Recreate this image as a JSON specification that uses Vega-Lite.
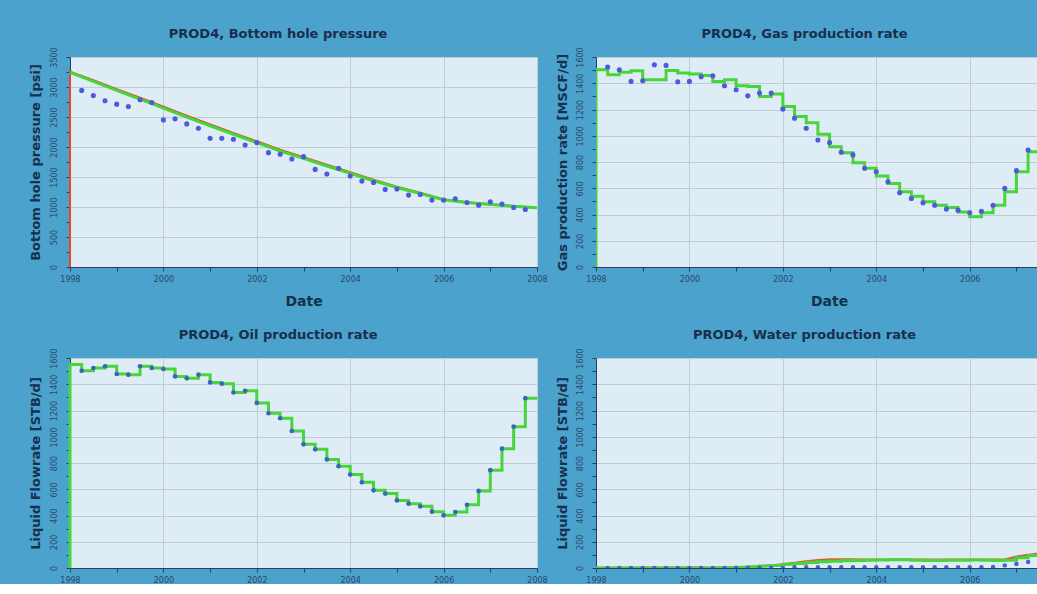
{
 "$schema": "https://vega.github.io/schema/vega-lite/v6.json",
 "background": "#4aa2cd",
 "padding": {"left": 29, "top": 27, "right": 0, "bottom": 0},
 "config": {
  "view": {"fill": "#deedf5", "stroke": null},
  "font": "DejaVu Sans",
  "axis": {"domainColor": "#24405e", "domainWidth": 1, "tickColor": "#24405e", "tickSize": 4, "labelColor": "#2a4868", "labelFontSize": 8, "titleColor": "#17304f", "titleFontWeight": "bold", "titleFontSize": 13, "gridColor": "#c0ccd4", "gridWidth": 1, "labelOverlap": false, "labelFlush": false},
  "title": {"fontSize": 13, "color": "#1a2d4c", "fontWeight": "bold", "offset": 6, "frame": "bounds"}
 },
 "datasets": {
  "bhp_obs": [{"t":1998.25,"v":2943},{"t":1998.5,"v":2859},{"t":1998.75,"v":2770},{"t":1999,"v":2714},{"t":1999.25,"v":2675},{"t":1999.5,"v":2787},{"t":1999.75,"v":2742},{"t":2000,"v":2452},{"t":2000.25,"v":2469},{"t":2000.5,"v":2385},{"t":2000.75,"v":2313},{"t":2001,"v":2146},{"t":2001.25,"v":2146},{"t":2001.5,"v":2129},{"t":2001.75,"v":2034},{"t":2002,"v":2073},{"t":2002.25,"v":1906},{"t":2002.5,"v":1878},{"t":2002.75,"v":1800},{"t":2003,"v":1839},{"t":2003.25,"v":1627},{"t":2003.5,"v":1549},{"t":2003.75,"v":1644},{"t":2004,"v":1516},{"t":2004.25,"v":1432},{"t":2004.5,"v":1410},{"t":2004.75,"v":1293},{"t":2005,"v":1299},{"t":2005.25,"v":1198},{"t":2005.5,"v":1209},{"t":2005.75,"v":1115},{"t":2006,"v":1115},{"t":2006.25,"v":1137},{"t":2006.5,"v":1076},{"t":2006.75,"v":1031},{"t":2007,"v":1087},{"t":2007.25,"v":1048},{"t":2007.5,"v":992},{"t":2007.75,"v":959}],
  "bhp_green": [{"t":1998,"v":3243},{"t":1998.5,"v":3093},{"t":1999,"v":2943},{"t":1999.5,"v":2798},{"t":2000,"v":2647},{"t":2000.5,"v":2497},{"t":2001,"v":2352},{"t":2001.5,"v":2212},{"t":2002,"v":2073},{"t":2002.5,"v":1934},{"t":2003,"v":1811},{"t":2003.5,"v":1683},{"t":2004,"v":1560},{"t":2004.5,"v":1438},{"t":2005,"v":1326},{"t":2005.5,"v":1226},{"t":2006,"v":1120},{"t":2006.5,"v":1076},{"t":2007,"v":1042},{"t":2007.5,"v":1014},{"t":2008,"v":986}],
  "bhp_red": [{"t":1998,"v":0},{"t":1998,"v":3255},{"t":1998.5,"v":3112},{"t":1999,"v":2965},{"t":1999.5,"v":2822},{"t":2000,"v":2672},{"t":2000.5,"v":2522},{"t":2001,"v":2377},{"t":2001.5,"v":2236},{"t":2002,"v":2095},{"t":2002.5,"v":1956},{"t":2003,"v":1832},{"t":2003.5,"v":1703},{"t":2004,"v":1578},{"t":2004.5,"v":1454},{"t":2005,"v":1340},{"t":2005.5,"v":1236},{"t":2006,"v":1126},{"t":2006.5,"v":1078},{"t":2007,"v":1044},{"t":2007.5,"v":1015},{"t":2008,"v":987}],
  "gas_obs": [{"t":1998.25,"v":1524},{"t":1998.5,"v":1503},{"t":1998.75,"v":1414},{"t":1999,"v":1419},{"t":1999.25,"v":1541},{"t":1999.5,"v":1536},{"t":1999.75,"v":1411},{"t":2000,"v":1414},{"t":2000.25,"v":1450},{"t":2000.5,"v":1457},{"t":2000.75,"v":1381},{"t":2001,"v":1350},{"t":2001.25,"v":1304},{"t":2001.5,"v":1325},{"t":2001.75,"v":1325},{"t":2002,"v":1203},{"t":2002.25,"v":1134},{"t":2002.5,"v":1057},{"t":2002.75,"v":968},{"t":2003,"v":948},{"t":2003.25,"v":874},{"t":2003.5,"v":854},{"t":2003.75,"v":752},{"t":2004,"v":726},{"t":2004.25,"v":650},{"t":2004.5,"v":566},{"t":2004.75,"v":522},{"t":2005,"v":489},{"t":2005.25,"v":471},{"t":2005.5,"v":441},{"t":2005.75,"v":433},{"t":2006,"v":413},{"t":2006.25,"v":425},{"t":2006.5,"v":471},{"t":2006.75,"v":599},{"t":2007,"v":734},{"t":2007.25,"v":891},{"t":2007.5,"v":1096},{"t":2007.75,"v":1300}],
  "gas_sim": [{"t":1998,"v":0},{"t":1998,"v":1503},{"t":1998.25,"v":1465},{"t":1998.5,"v":1483},{"t":1998.75,"v":1496},{"t":1999,"v":1427},{"t":1999.25,"v":1427},{"t":1999.5,"v":1498},{"t":1999.75,"v":1478},{"t":2000,"v":1470},{"t":2000.25,"v":1460},{"t":2000.5,"v":1414},{"t":2000.75,"v":1427},{"t":2001,"v":1381},{"t":2001.25,"v":1376},{"t":2001.5,"v":1299},{"t":2001.75,"v":1319},{"t":2002,"v":1223},{"t":2002.25,"v":1146},{"t":2002.5,"v":1100},{"t":2002.75,"v":1011},{"t":2003,"v":917},{"t":2003.25,"v":871},{"t":2003.5,"v":795},{"t":2003.75,"v":752},{"t":2004,"v":693},{"t":2004.25,"v":637},{"t":2004.5,"v":573},{"t":2004.75,"v":540},{"t":2005,"v":497},{"t":2005.25,"v":471},{"t":2005.5,"v":454},{"t":2005.75,"v":420},{"t":2006,"v":382},{"t":2006.25,"v":413},{"t":2006.5,"v":471},{"t":2006.75,"v":573},{"t":2007,"v":726},{"t":2007.25,"v":879},{"t":2007.5,"v":1090},{"t":2007.75,"v":1290},{"t":2008,"v":1290}],
  "oil_obs": [{"t":1998.25,"v":1503},{"t":1998.5,"v":1524},{"t":1998.75,"v":1537},{"t":1999,"v":1478},{"t":1999.25,"v":1473},{"t":1999.5,"v":1537},{"t":1999.75,"v":1524},{"t":2000,"v":1516},{"t":2000.25,"v":1460},{"t":2000.5,"v":1445},{"t":2000.75,"v":1473},{"t":2001,"v":1414},{"t":2001.25,"v":1404},{"t":2001.5,"v":1337},{"t":2001.75,"v":1350},{"t":2002,"v":1258},{"t":2002.25,"v":1179},{"t":2002.5,"v":1141},{"t":2002.75,"v":1044},{"t":2003,"v":942},{"t":2003.25,"v":904},{"t":2003.5,"v":827},{"t":2003.75,"v":776},{"t":2004,"v":712},{"t":2004.25,"v":653},{"t":2004.5,"v":592},{"t":2004.75,"v":567},{"t":2005,"v":515},{"t":2005.25,"v":490},{"t":2005.5,"v":470},{"t":2005.75,"v":429},{"t":2006,"v":401},{"t":2006.25,"v":426},{"t":2006.5,"v":482},{"t":2006.75,"v":587},{"t":2007,"v":745},{"t":2007.25,"v":909},{"t":2007.5,"v":1077},{"t":2007.75,"v":1294}],
  "oil_sim": [{"t":1998,"v":0},{"t":1998,"v":1550},{"t":1998.25,"v":1503},{"t":1998.5,"v":1524},{"t":1998.75,"v":1537},{"t":1999,"v":1478},{"t":1999.25,"v":1473},{"t":1999.5,"v":1537},{"t":1999.75,"v":1524},{"t":2000,"v":1516},{"t":2000.25,"v":1460},{"t":2000.5,"v":1445},{"t":2000.75,"v":1473},{"t":2001,"v":1414},{"t":2001.25,"v":1404},{"t":2001.5,"v":1337},{"t":2001.75,"v":1350},{"t":2002,"v":1258},{"t":2002.25,"v":1179},{"t":2002.5,"v":1141},{"t":2002.75,"v":1044},{"t":2003,"v":942},{"t":2003.25,"v":904},{"t":2003.5,"v":827},{"t":2003.75,"v":776},{"t":2004,"v":712},{"t":2004.25,"v":653},{"t":2004.5,"v":592},{"t":2004.75,"v":567},{"t":2005,"v":515},{"t":2005.25,"v":490},{"t":2005.5,"v":470},{"t":2005.75,"v":429},{"t":2006,"v":401},{"t":2006.25,"v":426},{"t":2006.5,"v":482},{"t":2006.75,"v":587},{"t":2007,"v":745},{"t":2007.25,"v":909},{"t":2007.5,"v":1077},{"t":2007.75,"v":1294},{"t":2008,"v":1294}],
  "wat_obs": [{"t":1998.25,"v":0},{"t":1998.5,"v":0},{"t":1998.75,"v":0},{"t":1999,"v":0},{"t":1999.25,"v":0},{"t":1999.5,"v":0},{"t":1999.75,"v":0},{"t":2000,"v":0},{"t":2000.25,"v":0},{"t":2000.5,"v":0},{"t":2000.75,"v":0},{"t":2001,"v":0},{"t":2001.25,"v":0},{"t":2001.5,"v":0},{"t":2001.75,"v":0},{"t":2002,"v":0},{"t":2002.25,"v":6},{"t":2002.5,"v":6},{"t":2002.75,"v":6},{"t":2003,"v":6},{"t":2003.25,"v":6},{"t":2003.5,"v":6},{"t":2003.75,"v":6},{"t":2004,"v":6},{"t":2004.25,"v":6},{"t":2004.5,"v":6},{"t":2004.75,"v":6},{"t":2005,"v":6},{"t":2005.25,"v":6},{"t":2005.5,"v":6},{"t":2005.75,"v":6},{"t":2006,"v":6},{"t":2006.25,"v":6},{"t":2006.5,"v":8},{"t":2006.75,"v":20},{"t":2007,"v":30},{"t":2007.25,"v":45},{"t":2007.5,"v":55},{"t":2007.75,"v":60}],
  "wat_green": [{"t":1998,"v":0},{"t":2000.5,"v":0},{"t":2000.75,"v":3},{"t":2001,"v":6},{"t":2001.25,"v":10},{"t":2001.5,"v":15},{"t":2001.75,"v":20},{"t":2002,"v":28},{"t":2002.25,"v":35},{"t":2002.5,"v":42},{"t":2002.75,"v":48},{"t":2003,"v":52},{"t":2003.25,"v":55},{"t":2003.5,"v":57},{"t":2003.75,"v":59},{"t":2004,"v":61},{"t":2004.25,"v":62},{"t":2004.5,"v":62},{"t":2004.75,"v":60},{"t":2005,"v":58},{"t":2005.25,"v":58},{"t":2005.5,"v":59},{"t":2005.75,"v":60},{"t":2006,"v":61},{"t":2006.25,"v":60},{"t":2006.5,"v":58},{"t":2006.75,"v":60},{"t":2007,"v":78},{"t":2007.25,"v":95},{"t":2007.5,"v":105},{"t":2007.75,"v":110},{"t":2008,"v":110}],
  "wat_red": [{"t":1998,"v":0},{"t":2001,"v":4},{"t":2001.5,"v":12},{"t":2002,"v":26},{"t":2002.25,"v":38},{"t":2002.5,"v":50},{"t":2002.75,"v":60},{"t":2003,"v":64},{"t":2003.25,"v":65},{"t":2003.5,"v":64},{"t":2003.75,"v":63},{"t":2004,"v":63},{"t":2004.5,"v":63},{"t":2005,"v":62},{"t":2005.5,"v":62},{"t":2006,"v":63},{"t":2006.5,"v":62},{"t":2006.75,"v":63},{"t":2007,"v":85},{"t":2007.25,"v":100},{"t":2007.5,"v":108},{"t":2008,"v":112}]
 },
 "spacing": 20,
 "vconcat": [
  {
   "spacing": 8,
   "hconcat": [
    {
     "title": {"text": "PROD4, Bottom hole pressure", "dx": -10},
     "width": 467, "height": 210,
     "encoding": {
      "x": {"field": "t", "type": "quantitative", "scale": {"domain": [1998, 2008], "nice": false, "zero": false},
            "axis": {"title": "Date", "titleFontSize": 14, "values": [1998,1998.5,1999,1999.5,2000,2000.5,2001,2001.5,2002,2002.5,2003,2003.5,2004,2004.5,2005,2005.5,2006,2006.5,2007,2007.5,2008], "format": "d", "labelExpr": "datum.value % 2 === 0 ? datum.label : ''", "gridOpacity": {"condition": {"test": "datum.value % 2 === 0", "value": 1}, "value": 0}, "labelPadding": 4, "titlePadding": 11}},
      "y": {"field": "v", "type": "quantitative", "scale": {"domain": [0, 3500], "nice": false},
            "axis": {"title": "Bottom hole pressure [psi]", "values": [0,250,500,750,1000,1250,1500,1750,2000,2250,2500,2750,3000,3250,3500], "labelExpr": "datum.value % 500 === 0 ? datum.label : ''", "format": "d", "gridOpacity": {"condition": {"test": "datum.value % 500 === 0", "value": 1}, "value": 0}, "labelAngle": -90, "labelPadding": 8, "titlePadding": 8}}
     },
     "layer": [
      {"data": {"name": "bhp_red"}, "mark": {"type": "line", "color": "#e8452c", "strokeWidth": 2}},
      {"data": {"name": "bhp_green"}, "mark": {"type": "line", "color": "#45d63a", "strokeWidth": 3}},
      {"data": {"name": "bhp_obs"}, "mark": {"type": "point", "filled": true, "size": 26, "color": "#5058dc", "opacity": 1}}
     ]
    },
    {
     "title": {"text": "PROD4, Gas production rate", "dx": 8},
     "width": 441, "height": 210,
     "encoding": {
      "x": {"field": "t", "type": "quantitative", "scale": {"domain": [1998, 2007.44], "nice": false, "zero": false},
            "axis": {"title": "Date", "titleFontSize": 14, "titleX": 233, "values": [1998,1998.5,1999,1999.5,2000,2000.5,2001,2001.5,2002,2002.5,2003,2003.5,2004,2004.5,2005,2005.5,2006,2006.5,2007], "format": "d", "labelExpr": "datum.value % 2 === 0 ? datum.label : ''", "gridOpacity": {"condition": {"test": "datum.value % 2 === 0", "value": 1}, "value": 0}, "labelPadding": 4, "titlePadding": 11}},
      "y": {"field": "v", "type": "quantitative", "scale": {"domain": [0, 1600], "nice": false},
            "axis": {"title": "Gas production rate [MSCF/d]", "values": [0,100,200,300,400,500,600,700,800,900,1000,1100,1200,1300,1400,1500,1600], "labelExpr": "datum.value % 200 === 0 ? datum.label : ''", "format": "d", "gridOpacity": {"condition": {"test": "datum.value % 200 === 0", "value": 1}, "value": 0}, "labelAngle": -90, "labelPadding": 8, "titlePadding": 7}}
     },
     "layer": [
      {"data": {"name": "gas_sim"}, "mark": {"type": "line", "interpolate": "step-after", "color": "#45d63a", "strokeWidth": 3, "clip": true}},
      {"data": {"name": "gas_obs"}, "mark": {"type": "point", "filled": true, "size": 26, "color": "#5058dc", "opacity": 1, "clip": true}}
     ]
    }
   ]
  },
  {
   "spacing": 8,
   "hconcat": [
    {
     "title": {"text": "PROD4, Oil production rate", "dx": -10},
     "width": 467, "height": 210,
     "encoding": {
      "x": {"field": "t", "type": "quantitative", "scale": {"domain": [1998, 2008], "nice": false, "zero": false},
            "axis": {"title": null, "values": [1998,1998.5,1999,1999.5,2000,2000.5,2001,2001.5,2002,2002.5,2003,2003.5,2004,2004.5,2005,2005.5,2006,2006.5,2007,2007.5,2008], "format": "d", "labelExpr": "datum.value % 2 === 0 ? datum.label : ''", "gridOpacity": {"condition": {"test": "datum.value % 2 === 0", "value": 1}, "value": 0}, "labelPadding": 4}},
      "y": {"field": "v", "type": "quantitative", "scale": {"domain": [0, 1600], "nice": false},
            "axis": {"title": "Liquid Flowrate [STB/d]", "values": [0,100,200,300,400,500,600,700,800,900,1000,1100,1200,1300,1400,1500,1600], "labelExpr": "datum.value % 200 === 0 ? datum.label : ''", "format": "d", "gridOpacity": {"condition": {"test": "datum.value % 200 === 0", "value": 1}, "value": 0}, "labelAngle": -90, "labelPadding": 8, "titlePadding": 8}}
     },
     "layer": [
      {"data": {"name": "oil_sim"}, "mark": {"type": "line", "interpolate": "step-after", "color": "#45d63a", "strokeWidth": 3}},
      {"data": {"name": "oil_obs"}, "mark": {"type": "point", "filled": true, "size": 22, "color": "#3d64b8", "opacity": 1}}
     ]
    },
    {
     "title": {"text": "PROD4, Water production rate", "dx": 8},
     "width": 441, "height": 210,
     "encoding": {
      "x": {"field": "t", "type": "quantitative", "scale": {"domain": [1998, 2007.44], "nice": false, "zero": false},
            "axis": {"title": null, "values": [1998,1998.5,1999,1999.5,2000,2000.5,2001,2001.5,2002,2002.5,2003,2003.5,2004,2004.5,2005,2005.5,2006,2006.5,2007], "format": "d", "labelExpr": "datum.value % 2 === 0 ? datum.label : ''", "gridOpacity": {"condition": {"test": "datum.value % 2 === 0", "value": 1}, "value": 0}, "labelPadding": 4}},
      "y": {"field": "v", "type": "quantitative", "scale": {"domain": [0, 1600], "nice": false},
            "axis": {"title": "Liquid Flowrate [STB/d]", "values": [0,100,200,300,400,500,600,700,800,900,1000,1100,1200,1300,1400,1500,1600], "labelExpr": "datum.value % 200 === 0 ? datum.label : ''", "format": "d", "gridOpacity": {"condition": {"test": "datum.value % 200 === 0", "value": 1}, "value": 0}, "labelAngle": -90, "labelPadding": 8, "titlePadding": 7}}
     },
     "layer": [
      {"data": {"name": "wat_red"}, "mark": {"type": "line", "color": "#d9622c", "strokeWidth": 2.5, "clip": true}},
      {"data": {"name": "wat_green"}, "mark": {"type": "line", "interpolate": "step-after", "color": "#45d63a", "strokeWidth": 3, "clip": true}},
      {"data": {"name": "wat_obs"}, "mark": {"type": "point", "filled": true, "size": 20, "color": "#5058dc", "opacity": 1, "clip": true}}
     ]
    }
   ]
  }
 ]
}
